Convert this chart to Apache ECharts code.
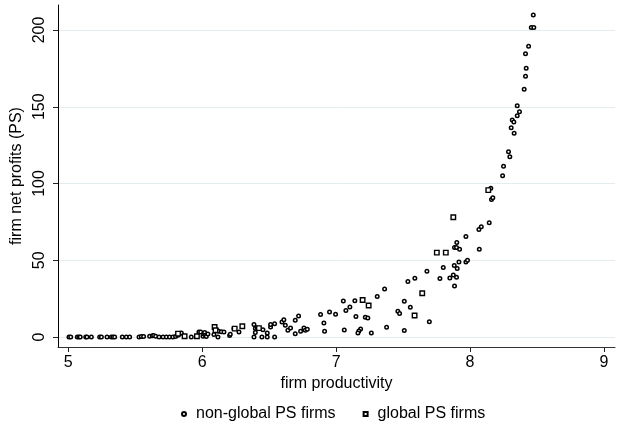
<!DOCTYPE html>
<html>
<head>
<meta charset="utf-8">
<script src="https://cdn.jsdelivr.net/npm/echarts@6/dist/echarts.min.js"></script>
<style>
  html, body { margin: 0; padding: 0; background: #fff; }
  #chart { width: 622px; height: 428px; }
</style>
</head>
<body>
<div id="chart"></div>
<script>
// firm productivity (x) and net profits (y)
const nonGlobalProd = [
  5.006, 5.019, 5.068, 5.080, 5.090, 5.131, 5.140, 5.173, 5.235, 5.248,
  5.290, 5.322, 5.334, 5.347, 5.404, 5.434, 5.459, 5.529, 5.546, 5.563,
  5.608, 5.628, 5.638, 5.653, 5.678, 5.708, 5.733, 5.757, 5.782, 5.802,
  5.819, 5.832, 5.845, 5.919, 5.976, 5.989, 6.006, 6.012, 6.019, 6.025,
  6.031, 6.043, 6.088, 6.113, 6.123, 6.118, 6.143, 6.163, 6.205, 6.210,
  6.237, 6.275, 6.387, 6.387, 6.397, 6.412, 6.397, 6.454, 6.446, 6.486,
  6.486, 6.511, 6.511, 6.541, 6.541, 6.596, 6.610, 6.621, 6.640, 6.660,
  6.695, 6.720, 6.695, 6.735, 6.760, 6.770, 6.785, 6.884, 6.909, 6.914,
  6.951, 6.996, 7.054, 7.140, 7.509, 7.103, 7.073, 7.554, 7.461, 7.474,
  7.148, 7.218, 7.237, 7.696, 7.377, 7.061, 7.183, 7.170, 7.163, 7.263,
  7.509, 7.362, 7.307, 7.588, 7.536, 7.678, 7.775, 7.849, 7.875, 7.899,
  7.884, 7.800, 7.882, 7.904, 7.917, 7.969, 7.981, 7.901, 7.884, 7.899,
  7.922, 8.069, 7.969, 8.066, 8.084, 8.143, 8.155, 8.160, 8.170, 8.243,
  8.250, 8.287, 8.297, 8.329, 8.307, 8.315, 8.327, 8.352, 8.369, 8.352,
  8.404, 8.414, 8.419, 8.414, 8.437, 8.457, 8.476, 8.472
]
const nonGlobalProfit = [
  0, 0, 0, 0, 0, 0, 0, 0, 0, 0,
  0, 0, 0, 0, 0, 0, 0, 0, 0.3, 0.3,
  0.5, 0.8, 1.0, 0.5, 0, 0, 0, 0, 0, 0.3,
  1.1, 2.2, 2.6, 0, 3.3, 3.3, 0.5, 2.0, 3.0, 1.2,
  0.3, 2.0, 1.6, 4.2, 3.8, 0, 3.5, 3.2, 1.0, 1.8,
  5.5, 3.3, 8.1, 0, 5.5, 5.9, 2.9, 4.8, 0, 2.6,
  0, 6.5, 8.1, 8.7, 0, 9.8, 11.3, 7.6, 4.4, 5.9,
  10.9, 13.7, 2.2, 3.7, 5.9, 4.4, 5.0, 14.6, 9.1, 3.7,
  16.3, 14.8, 23.5, 23.7, 23.3, 19.6, 17.2, 19.4, 16.8, 15.3,
  13.3, 12.9, 12.4, 10.0, 6.3, 4.6, 5.2, 3.9, 2.6, 2.6,
  4.2, 31.3, 26.4, 38.3, 36.1, 42.9, 38.1, 38.5, 40.4, 38.9,
  33.3, 45.3, 46.6, 44.6, 48.9, 48.9, 50.0, 61.6, 58.3, 58.3,
  57.2, 57.2, 65.5, 70.0, 71.8, 74.4, 97.0, 89.6, 90.7, 105.0,
  111.2, 120.7, 117.4, 132.7, 136.3, 141.4, 140.1, 144.2, 146.8, 150.7,
  161.4, 169.9, 175.1, 184.6, 189.4, 201.6, 201.6, 209.8
]
const globalProd = [
  5.820, 5.869, 5.961, 6.093, 6.100, 6.243, 6.300, 6.424,
  7.198, 7.243, 7.586, 7.643, 7.752, 7.819, 7.875, 8.136
]
const globalProfit = [
  2.2, 0.5, 0.5, 6.5, 4.4, 5.5, 7.0, 5.8,
  24.1, 20.5, 14.0, 28.5, 55.0, 55.0, 78.0, 95.7
]
const xTicks = [5, 6, 7, 8, 9]
const yTicks = [0, 50, 100, 150, 200]

const zip = (xs, ys) => xs.map((x, i) => [x, ys[i]])

const chart = echarts.init(document.getElementById('chart'), null, { renderer: 'canvas' })
const font = 'Liberation Sans, Arial, Helvetica, sans-serif'

chart.setOption({
  animation: false,
  textStyle: { fontFamily: font, color: '#000' },
  grid: { left: 58, right: 7, top: 5, bottom: 81 },
  xAxis: {
    type: 'value',
    min: 4.924,
    max: 9.082,
    name: 'firm productivity',
    nameLocation: 'middle',
    nameGap: 27,
    nameTextStyle: { fontSize: 16, color: '#000', fontFamily: font },
    axisLine: { show: true, onZero: false, lineStyle: { color: '#333', width: 1 } },
    axisTick: { show: true, length: 5, customValues: xTicks, lineStyle: { color: '#222' } },
    axisLabel: { customValues: xTicks, fontSize: 16, color: '#000', margin: 8, fontFamily: font },
    splitLine: { show: false }
  },
  yAxis: {
    type: 'value',
    min: -6.5,
    max: 216.3,
    name: 'firm net profits (PS)',
    nameLocation: 'middle',
    nameGap: 26,
    nameTextStyle: { fontSize: 16, color: '#000', fontFamily: font },
    axisLine: { show: true, onZero: false, lineStyle: { color: '#000', width: 1 } },
    axisTick: { show: true, length: 5, customValues: yTicks, lineStyle: { color: '#222' } },
    axisLabel: { customValues: yTicks, rotate: 90, fontSize: 16, color: '#000', margin: 10, fontFamily: font },
    splitLine: { show: true, lineStyle: { color: '#e3ecef', width: 1 } }
  },
  legend: {
    left: 181,
    top: 406,
    padding: 0,
    itemWidth: 4,
    itemHeight: 4,
    itemGap: 27,
    textStyle: { fontSize: 16, color: '#000', fontFamily: font, padding: [0, 0, 0, 5] },
    data: [
      { name: 'non-global PS firms', icon: 'circle' },
      { name: 'global PS firms', icon: 'rect' }
    ]
  },
  series: [
    {
      name: 'non-global PS firms',
      type: 'scatter',
      symbol: 'circle',
      symbolSize: 3.5,
      itemStyle: { color: '#fff', borderColor: '#000', borderWidth: 1.5, opacity: 1 },
      data: zip(nonGlobalProd, nonGlobalProfit)
    },
    {
      name: 'global PS firms',
      type: 'scatter',
      symbol: 'rect',
      symbolSize: 4.5,
      itemStyle: { color: '#fff', borderColor: '#000', borderWidth: 1.4, opacity: 1 },
      data: zip(globalProd, globalProfit)
    }
  ]
})
</script>
</body>
</html>
